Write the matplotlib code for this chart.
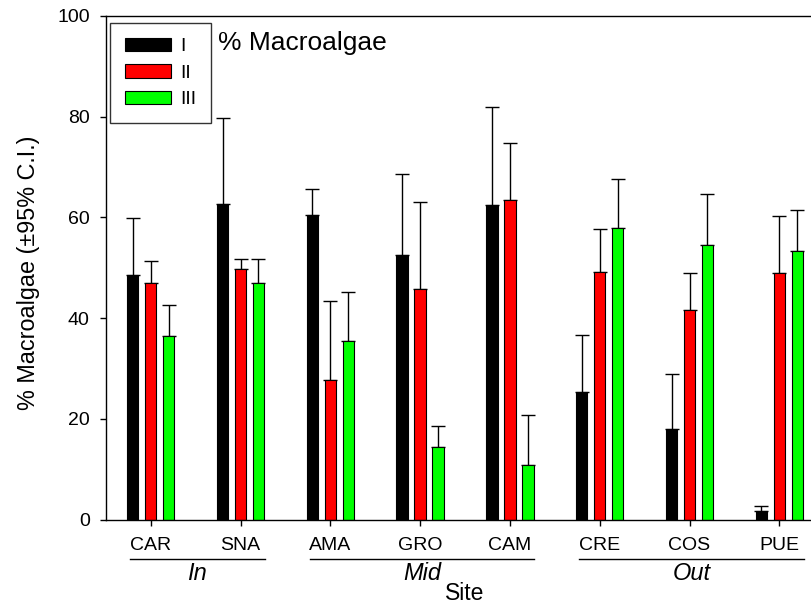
import numpy as np
import matplotlib
matplotlib.use('Agg')
import matplotlib.pyplot as plt
from matplotlib.patches import Patch

plt.rcParams['font.family'] = ['Liberation Sans', 'DejaVu Sans']

sites = ['CAR', 'SNA', 'AMA', 'GRO', 'CAM', 'CRE', 'COS', 'PUE']
series = ['I', 'II', 'III']
colors = ['#000000', '#ff0000', '#00ff00']

# mean % macroalgae per site and period
mean_I = [48.6, 62.6, 60.5, 52.5, 62.5, 25.4, 17.9, 1.6]
mean_II = [47.0, 49.8, 27.8, 45.8, 63.5, 49.2, 41.6, 49.0]
mean_III = [36.5, 46.9, 35.5, 14.3, 10.8, 57.8, 54.5, 53.3]
# upper end of the 95% C.I.
upper_I = [59.9, 79.8, 65.6, 68.7, 81.9, 36.6, 28.9, 2.7]
upper_II = [51.3, 51.7, 43.3, 63.0, 74.8, 57.6, 49.0, 60.3]
upper_III = [42.7, 51.7, 45.1, 18.5, 20.8, 67.6, 64.6, 61.4]

zones = ['In', 'Mid', 'Out']
zone_first = [0, 2, 5]
zone_last = [1, 4, 7]

means = [mean_I, mean_II, mean_III]
uppers = [upper_I, upper_II, upper_III]

fig = plt.figure(figsize=(8.12, 6.06), dpi=100)
ax = fig.add_axes([105.8 / 812, (606 - 519.5) / 606, 718.4 / 812, 503.5 / 606])

x = np.arange(len(sites))
width = 0.128
offsets = [-0.2, 0.0, 0.2]
for m, u, c, off in zip(means, uppers, colors, offsets):
    m = np.array(m)
    u = np.array(u)
    ax.bar(x + off, m, width, color=c, edgecolor='black', linewidth=0.8, zorder=2)
    err = np.vstack([np.zeros_like(m), u - m])
    ax.errorbar(x + off, m, yerr=err, fmt='none', ecolor='black',
                elinewidth=1.0, capsize=5, capthick=1.0, zorder=1)

ax.set_xlim(-0.5, 7.5)
ax.set_ylim(0, 100)
ax.set_yticks([0, 20, 40, 60, 80, 100])
ax.set_xticks(x)
ax.set_xticklabels(sites)
ax.tick_params(axis='both', direction='out', length=4.5, width=1.0, labelsize=14)
ax.tick_params(axis='x', pad=8)
ax.tick_params(axis='y', pad=7)
for s in ax.spines.values():
    s.set_linewidth(1.0)

ax.set_ylabel('% Macroalgae (\u00b195% C.I.)', fontsize=16.8)
ax.yaxis.set_label_coords(-0.091, 0.49)
ax.set_xlabel('Site', fontsize=16.5)
ax.xaxis.set_label_coords(0.5, -0.125)

# zone lines and labels under the site names
trans = ax.get_xaxis_transform()
for name, lo, hi in zip(zones, zone_first, zone_last):
    ax.plot([lo - 0.23, hi + 0.27], [-0.079, -0.079], color='black', lw=1.0,
            transform=trans, clip_on=False)
    ax.text((lo + hi) / 2 + 0.02, -0.121, name, transform=trans, ha='center',
            va='baseline', fontsize=17, style='italic')

ax.text(0.156, 0.946, '% Macroalgae', transform=ax.transAxes, ha='left',
        va='center', fontsize=19)

handles = [Patch(facecolor=c, edgecolor='black', linewidth=0.8) for c in colors]
leg = ax.legend(handles, series, loc='upper left', bbox_to_anchor=(0.006, 0.986),
                borderaxespad=0, fontsize=14, handlelength=2.37, handleheight=0.72,
                handletextpad=0.5, labelspacing=0.45, borderpad=0.75,
                fancybox=False, frameon=True)
leg.get_frame().set_edgecolor('black')
leg.get_frame().set_linewidth(1.0)

fig.savefig('out.png', dpi=100)
